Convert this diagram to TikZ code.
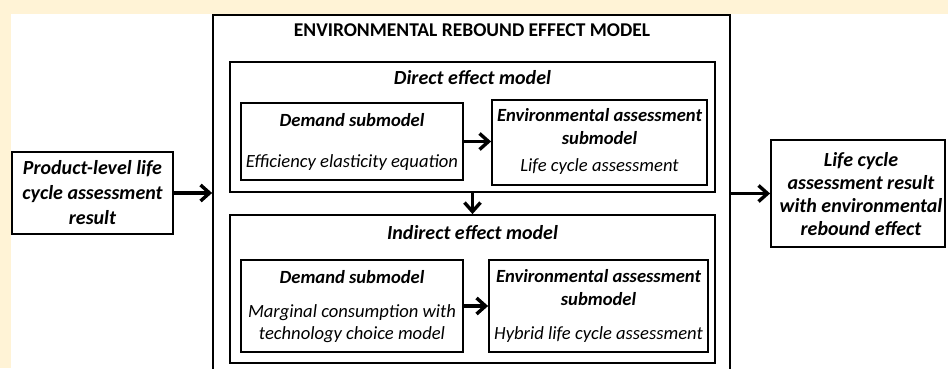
\documentclass[tikz,border=0pt]{standalone}
\usepackage{fontspec}
\setmainfont{Carlito}
\usetikzlibrary{arrows.meta}
\definecolor{cream}{HTML}{FFF3D6}
\begin{document}
\begin{tikzpicture}[x=1pt,y=-1pt,
  box/.style={draw, line width=1.8pt, inner sep=0pt, fill=white},
  arr/.style={line width=3.6pt, -{Straight Barb[length=9pt,width=16pt,line width=3.4pt]}},
  bt/.style={font=\fontsize{18.6}{23}\selectfont\bfseries\itshape, align=center, inner sep=0pt},
  it/.style={font=\fontsize{18.6}{22}\selectfont\itshape, align=center, inner sep=0pt},
  big/.style={font=\fontsize{20}{25}\selectfont\bfseries\itshape, align=center, inner sep=0pt},
  hd/.style={font=\fontsize{20}{24}\selectfont\bfseries\itshape, inner sep=0pt},
]
\useasboundingbox (0,0) rectangle (948,368);
\clip (0,0) rectangle (948,368);
\fill[cream] (0,0) rectangle (948,368);
\fill[white] (11,14) rectangle (948,368);

% boxes
\node[box, minimum width=517pt, minimum height=362pt] (outer) at (471.5,196) {};
\node[box, minimum width=485pt, minimum height=130pt] (direct) at (472.5,127) {};
\node[box, minimum width=485pt, minimum height=148pt] (indirect) at (472.5,289) {};
\node[box, minimum width=222pt, minimum height=77pt] (ddem) at (352,141.5) {};
\node[box, minimum width=215pt, minimum height=85pt] (denv) at (599.5,142.5) {};
\node[box, minimum width=222pt, minimum height=92pt] (idem) at (352,306) {};
\node[box, minimum width=219pt, minimum height=92pt] (ienv) at (598.5,306) {};
\node[box, minimum width=161pt, minimum height=82pt] (left) at (92.5,193) {};
\node[box, minimum width=174pt, minimum height=107pt] (right) at (858,193.5) {};

% texts
\node[font=\fontsize{19.5}{22}\selectfont\bfseries, inner sep=0pt] (title) at (472,30) {ENVIRONMENTAL REBOUND EFFECT MODEL};
\node[hd] (dtitle) at (472.5,78) {Direct effect model};
\node[hd] (ititle) at (472.5,233) {Indirect effect model};

\node[bt] (ddemt) at (352,120) {Demand submodel};
\node[it] (ddems) at (352,163) {Efficiency elasticity equation};
\node[bt] (denvt) at (599.5,126.5) {Environmental assessment\\submodel};
\node[it] (denvs) at (599.5,167) {Life cycle assessment};

\node[bt] (idemt) at (352,277) {Demand submodel};
\node[it] (idems) at (352,324) {Marginal consumption with\\technology choice model};
\node[bt] (ienvt) at (598.5,287.5) {Environmental assessment\\submodel};
\node[it] (ienvs) at (598.5,335) {Hybrid life cycle assessment};

\node[big] (leftt) at (92.5,193) {Product-level life\\cycle assessment\\result};
\node[big, font=\fontsize{20}{23}\selectfont\bfseries\itshape] (rightt) at (861,194.5) {Life cycle\\assessment result\\with environmental\\rebound effect};

% arrows
\draw[arr] (left.east) -- (left.east -| outer.west);
\draw[arr] (outer.east |- right.west) -- (right.west);
\draw[arr] (direct.south) -- (indirect.north);
\draw[arr] (ddem.east) -- (ddem.east -| denv.west);
\draw[arr] (idem.east) -- (idem.east -| ienv.west);
\end{tikzpicture}
\end{document}
